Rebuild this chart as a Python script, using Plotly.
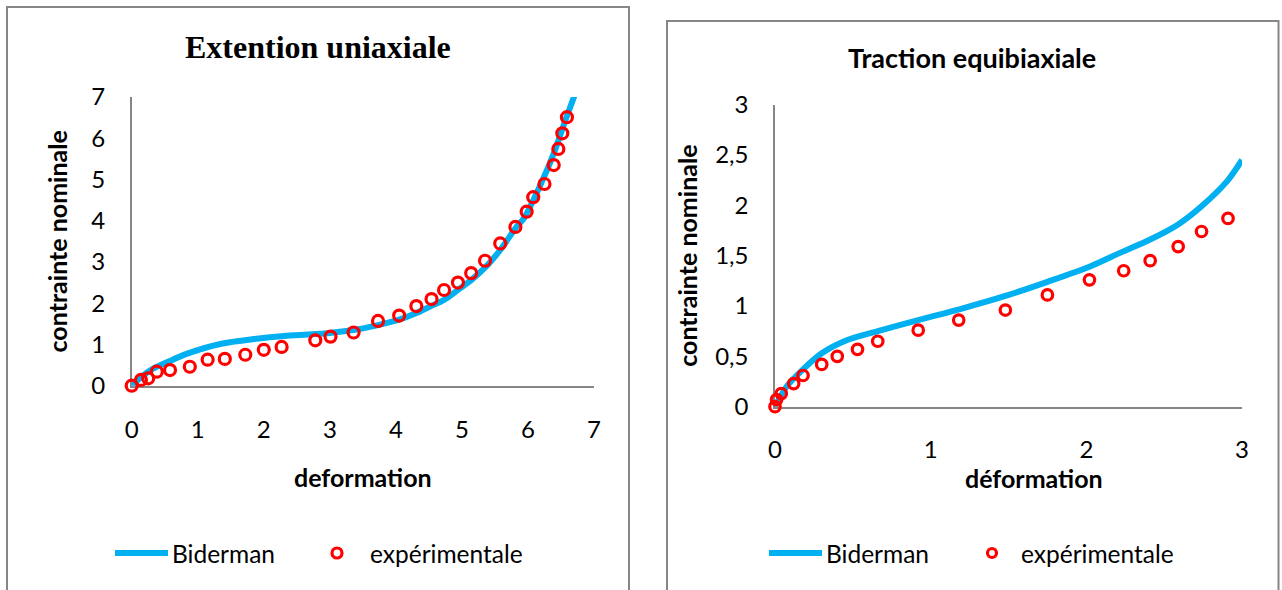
import plotly.graph_objects as go

# ---- Extention uniaxiale ----
uni_model_x = [0, 0.15, 0.33, 0.55, 0.83, 1.34, 1.85, 2.35, 2.86, 3.0, 3.36, 3.73, 4.05, 4.31,
               4.53, 4.73, 4.97, 5.14, 5.39, 5.58, 5.84, 5.94, 6.19, 6.40, 6.55, 6.72]
uni_model_y = [0, 0.22, 0.42, 0.58, 0.77, 1.01, 1.13, 1.21, 1.26, 1.28, 1.35, 1.47, 1.60, 1.76,
               1.93, 2.08, 2.36, 2.56, 2.93, 3.29, 3.88, 4.06, 4.87, 5.67, 6.36, 7.10]
uni_exp_x = [0, 0.14, 0.25, 0.38, 0.58, 0.88, 1.15, 1.41, 1.72, 2.0, 2.27, 2.78, 3.01, 3.36,
             3.73, 4.05, 4.31, 4.54, 4.73, 4.94, 5.14, 5.35, 5.58, 5.81, 5.98, 6.08, 6.25,
             6.39, 6.46, 6.52, 6.59]
uni_exp_y = [0, 0.14, 0.18, 0.34, 0.38, 0.46, 0.63, 0.65, 0.75, 0.87, 0.94, 1.10, 1.19, 1.29,
             1.57, 1.70, 1.93, 2.10, 2.32, 2.50, 2.73, 3.03, 3.45, 3.85, 4.22, 4.57, 4.89,
             5.35, 5.74, 6.12, 6.51]
uni_xticks = [0, 1, 2, 3, 4, 5, 6, 7]
uni_yticks = [0, 1, 2, 3, 4, 5, 6, 7]

# ---- Traction equibiaxiale ----
equi_model_x = [0, 0.075, 0.18, 0.30, 0.46, 0.66, 0.92, 1.19, 1.48, 1.75, 2.02, 2.22, 2.41,
                2.59, 2.74, 2.91, 3.0]
equi_model_y = [0, 0.20, 0.37, 0.53, 0.66, 0.75, 0.86, 0.97, 1.10, 1.24, 1.39, 1.53, 1.66,
                1.81, 1.99, 2.25, 2.45]
equi_exp_x = [0, 0.01, 0.04, 0.12, 0.18, 0.30, 0.40, 0.53, 0.66, 0.92, 1.18, 1.48, 1.75,
              2.02, 2.24, 2.41, 2.59, 2.74, 2.91]
equi_exp_y = [0, 0.07, 0.13, 0.23, 0.31, 0.42, 0.50, 0.57, 0.65, 0.76, 0.86, 0.96, 1.11,
              1.26, 1.35, 1.45, 1.59, 1.74, 1.87]
equi_xticks = [0, 1, 2, 3]
equi_yticks = [0, 0.5, 1, 1.5, 2, 2.5, 3]
equi_yticktext = ["0", "0,5", "1", "1,5", "2", "2,5", "3"]

series_names = ["Biderman", "expérimentale"]

W, H = 1282, 590
BLUE = "#00B0F0"
RED = "#FF0000"
GRAY = "#868686"
SANS = "Lato"


def px_x(v):
    return v / W


def px_y(v):
    return 1 - v / H


fig = go.Figure()

fig.add_trace(go.Scatter(
    x=uni_model_x, y=uni_model_y, mode="lines", name=series_names[0],
    line=dict(color=BLUE, width=6, shape="spline", smoothing=0.8),
    xaxis="x", yaxis="y", showlegend=False))
fig.add_trace(go.Scatter(
    x=uni_exp_x, y=uni_exp_y, mode="markers", name=series_names[1],
    marker=dict(symbol="circle-open", size=11, color=RED, line=dict(color=RED, width=3.2)),
    cliponaxis=False, xaxis="x", yaxis="y", showlegend=False))

fig.add_trace(go.Scatter(
    x=equi_model_x, y=equi_model_y, mode="lines", name=series_names[0],
    line=dict(color=BLUE, width=6, shape="spline", smoothing=0.8),
    xaxis="x2", yaxis="y2", showlegend=False))
fig.add_trace(go.Scatter(
    x=equi_exp_x, y=equi_exp_y, mode="markers", name=series_names[1],
    marker=dict(symbol="circle-open", size=10.5, color=RED, line=dict(color=RED, width=3.2)),
    cliponaxis=False, xaxis="x2", yaxis="y2", showlegend=False))

tick_font = dict(family=SANS, size=24, color="#000000")
title_font = dict(family=SANS, size=25, color="#000000", weight="bold")

axis_common = dict(showgrid=False, zeroline=False, showline=True, linecolor=GRAY,
                   linewidth=1.5, ticks="", tickfont=tick_font, layer="below traces",
                   fixedrange=True, automargin=False)

fig.update_layout(
    width=W, height=H,
    margin=dict(l=0, r=0, t=0, b=0, pad=0, autoexpand=False),
    paper_bgcolor="white", plot_bgcolor="white",
    font=dict(family=SANS, color="#000000"),
    showlegend=False,
    xaxis=dict(domain=[px_x(131.7), px_x(594)], range=[0, 7], anchor="y",
               tickvals=uni_xticks, ticklabelstandoff=22,
               title=dict(text="deformation", font=title_font, standoff=27),
               **axis_common),
    yaxis=dict(domain=[px_y(385.7), px_y(97)], range=[0, 7], anchor="x",
               tickvals=uni_yticks, ticklabelstandoff=20,
               title=dict(text="contrainte nominale", font=title_font, standoff=16),
               **axis_common),
    xaxis2=dict(domain=[px_x(775), px_x(1242)], range=[0, 3], anchor="y2",
                tickvals=equi_xticks, ticklabelstandoff=21,
                **axis_common),
    yaxis2=dict(domain=[px_y(406.7), px_y(104.6)], range=[0, 3], anchor="x2",
                tickvals=equi_yticks, ticktext=equi_yticktext, ticklabelstandoff=20,
                title=dict(text="contrainte nominale", font=title_font, standoff=10),
                **axis_common),
)

# chart frames
fig.add_shape(type="rect", xref="paper", yref="paper",
              x0=px_x(7), x1=px_x(629), y0=-0.1, y1=px_y(7),
              line=dict(color=GRAY, width=2), layer="below")
fig.add_shape(type="rect", xref="paper", yref="paper",
              x0=px_x(667), x1=px_x(1278.5), y0=-0.1, y1=px_y(21),
              line=dict(color=GRAY, width=2), layer="below")

# chart titles
fig.add_annotation(text="<b>Extention uniaxiale</b>", xref="paper", yref="paper",
                   x=px_x(318), y=px_y(47), xanchor="center", yanchor="middle",
                   showarrow=False,
                   font=dict(family="Liberation Serif", size=32, color="#000000"))
fig.add_annotation(text="<b>Traction equibiaxiale</b>", xref="paper", yref="paper",
                   x=px_x(972), y=px_y(57), xanchor="center", yanchor="middle",
                   showarrow=False, font=dict(family=SANS, size=27, color="#000000"))
# x-axis title of the biaxial chart
fig.add_annotation(text="<b>déformation</b>", xref="paper", yref="paper",
                   x=px_x(1034), y=px_y(478), xanchor="center", yanchor="middle",
                   showarrow=False, font=dict(family=SANS, size=25, color="#000000"))


# legend rows under each chart: line sample, label, open-circle sample, label
def add_legend_row(line_x0, line_x1, text1_x, marker_x, marker_r, text2_x, y):
    fig.add_shape(type="line", xref="paper", yref="paper",
                  x0=px_x(line_x0), x1=px_x(line_x1), y0=px_y(y), y1=px_y(y),
                  line=dict(color=BLUE, width=6))
    fig.add_shape(type="circle", xref="paper", yref="paper",
                  x0=px_x(marker_x - marker_r), x1=px_x(marker_x + marker_r),
                  y0=px_y(y + marker_r), y1=px_y(y - marker_r),
                  line=dict(color=RED, width=3.2), fillcolor="rgba(0,0,0,0)")
    for tx, label in ((text1_x, series_names[0]), (text2_x, series_names[1])):
        fig.add_annotation(text=label, xref="paper", yref="paper",
                           x=px_x(tx), y=px_y(y), xanchor="left", yanchor="middle",
                           showarrow=False,
                           font=dict(family=SANS, size=24.5, color="#000000"))


add_legend_row(115, 168, 170, 337, 5, 368, 553)
add_legend_row(769, 822, 824, 992, 4.5, 1019, 553)

fig.write_html("out.html")
